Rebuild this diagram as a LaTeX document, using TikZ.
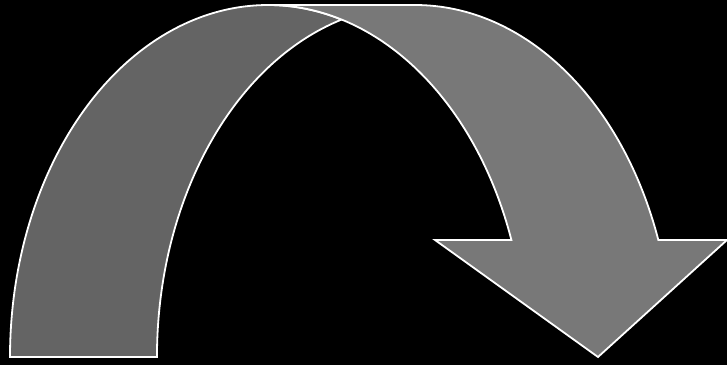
\documentclass[tikz,border=0pt]{standalone}
\begin{document}
\begin{tikzpicture}[x=1pt,y=1pt,
  part/.style={draw=white,line width=1.8pt,line join=miter},
  darkpart/.style={part,fill=darkfill},
  lightpart/.style={part,fill=lightfill}]
\definecolor{darkfill}{RGB}{100,100,100}
\definecolor{lightfill}{RGB}{120,120,120}
\fill[black] (0,0) rectangle (727,365);
\useasboundingbox (0,0) rectangle (727,365);
% dark tail
\path[darkpart] (10,8) arc[start angle=180,end angle=73.45,x radius=258,y radius=352]
  arc[start angle=106.55,end angle=180,x radius=258,y radius=352] -- cycle;
% light body with arrowhead
\path[lightpart] (268,360) -- (415,360)
  arc[start angle=90,end angle=19.41,x radius=258,y radius=352]
  -- (727,125) -- (598,8) -- (435,125) -- (511.4,125)
  arc[start angle=19.41,end angle=90,x radius=258,y radius=352] -- cycle;
\end{tikzpicture}
\end{document}
